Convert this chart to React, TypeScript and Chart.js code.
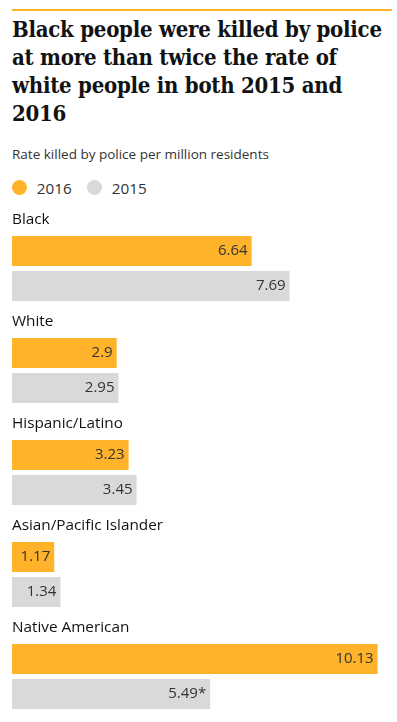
import React, { useEffect, useRef } from "react";
import { Chart, registerables } from "chart.js";

Chart.register(...registerables);

const categories = ["Black", "White", "Hispanic/Latino", "Asian/Pacific Islander", "Native American"];
const values2016 = [6.64, 2.9, 3.23, 1.17, 10.13];
const values2015 = [7.69, 2.95, 3.45, 1.34, 5.49];
const notes2015 = ["", "", "", "", "*"];
const seriesNames = ["2016", "2015"];

const ORANGE = "#ffb32a";
const GREY = "#d9d9d9";
const SANS = "'Open Sans', 'Noto Sans', sans-serif";

const valueLabels = {
  id: "valueLabels",
  afterDatasetsDraw(chart: any) {
    const ctx = chart.ctx;
    ctx.save();
    ctx.font = `15px ${SANS}`;
    ctx.fillStyle = "#333333";
    ctx.textAlign = "right";
    ctx.textBaseline = "middle";
    [1, 2].forEach((di) => {
      const meta = chart.getDatasetMeta(di);
      const ds = chart.data.datasets[di];
      meta.data.forEach((bar: any, i: number) => {
        const v = ds.data[i];
        if (v == null) return;
        const note = di === 2 ? notes2015[i] : "";
        ctx.fillText(String(v) + note, bar.x - 4, bar.y);
      });
    });
    ctx.restore();
  },
};

export default function App() {
  const ref = useRef<HTMLCanvasElement>(null);

  useEffect(() => {
    document.body.style.margin = "0";
    const chart = new Chart(ref.current!, {
      type: "bar",
      data: {
        labels: categories,
        datasets: [
          { label: "", data: categories.map(() => null), backgroundColor: "transparent" },
          { label: seriesNames[0], data: values2016, backgroundColor: ORANGE },
          { label: seriesNames[1], data: values2015, backgroundColor: GREY },
        ],
      },
      options: {
        indexAxis: "y",
        animation: false,
        responsive: false,
        maintainAspectRatio: false,
        events: [],
        layout: { padding: { left: 12, right: 6, top: 200, bottom: 12 } },
        datasets: {
          bar: { categoryPercentage: 105 / 102, barPercentage: 30 / 35, borderWidth: 0 },
        },
        plugins: { legend: { display: false }, tooltip: { enabled: false }, title: { display: false } },
        scales: {
          x: { display: false, min: 0, max: 10.5 },
          y: {
            position: "left",
            grid: { display: false, drawTicks: false },
            border: { display: false },
            ticks: {
              mirror: true,
              padding: 0,
              labelOffset: -31,
              autoSkip: false,
              color: "#121212",
              font: { family: SANS, size: 15.3 },
            },
          },
        },
      },
      plugins: [valueLabels],
    });
    return () => chart.destroy();
  }, []);

  const abs = (s: React.CSSProperties): React.CSSProperties => ({ position: "absolute", margin: 0, ...s });

  return (
    <div style={{ position: "relative", width: 397, height: 722, overflow: "hidden", background: "#fff" }}>
      <div style={abs({ left: 12, top: 9, width: 380, height: 2, background: ORANGE })} />
      <div
        style={abs({
          left: 12,
          top: 15,
          width: 385,
          fontFamily: "'DejaVu Serif Condensed', 'DejaVu Serif', serif",
          fontStretch: "condensed",
          fontWeight: 700,
          fontSize: 22,
          letterSpacing: "-0.25px",
          lineHeight: "28px",
          color: "#121212",
          whiteSpace: "nowrap",
        })}
      >
        Black people were killed by police
        <br />
        at more than twice the rate of
        <br />
        white people in both 2015 and
        <br />
        2016
      </div>
      <div
        style={abs({
          left: 12,
          top: 145,
          fontFamily: SANS,
          fontSize: 13.5,
          lineHeight: "18px",
          color: "#333333",
          whiteSpace: "nowrap",
        })}
      >
        Rate killed by police per million residents
      </div>
      <div style={abs({ left: 12, top: 179.5, width: 15, height: 15, borderRadius: "50%", background: ORANGE })} />
      <div style={abs({ left: 36.7, top: 178, fontFamily: SANS, fontSize: 15.3, lineHeight: "20px", color: "#333333" })}>
        {seriesNames[0]}
      </div>
      <div style={abs({ left: 87, top: 179.5, width: 15, height: 15, borderRadius: "50%", background: GREY })} />
      <div style={abs({ left: 111.7, top: 178, fontFamily: SANS, fontSize: 15.3, lineHeight: "20px", color: "#333333" })}>
        {seriesNames[1]}
      </div>
      <canvas ref={ref} width={397} height={722} style={abs({ left: 0, top: 0, width: 397, height: 722 })} />
    </div>
  );
}
